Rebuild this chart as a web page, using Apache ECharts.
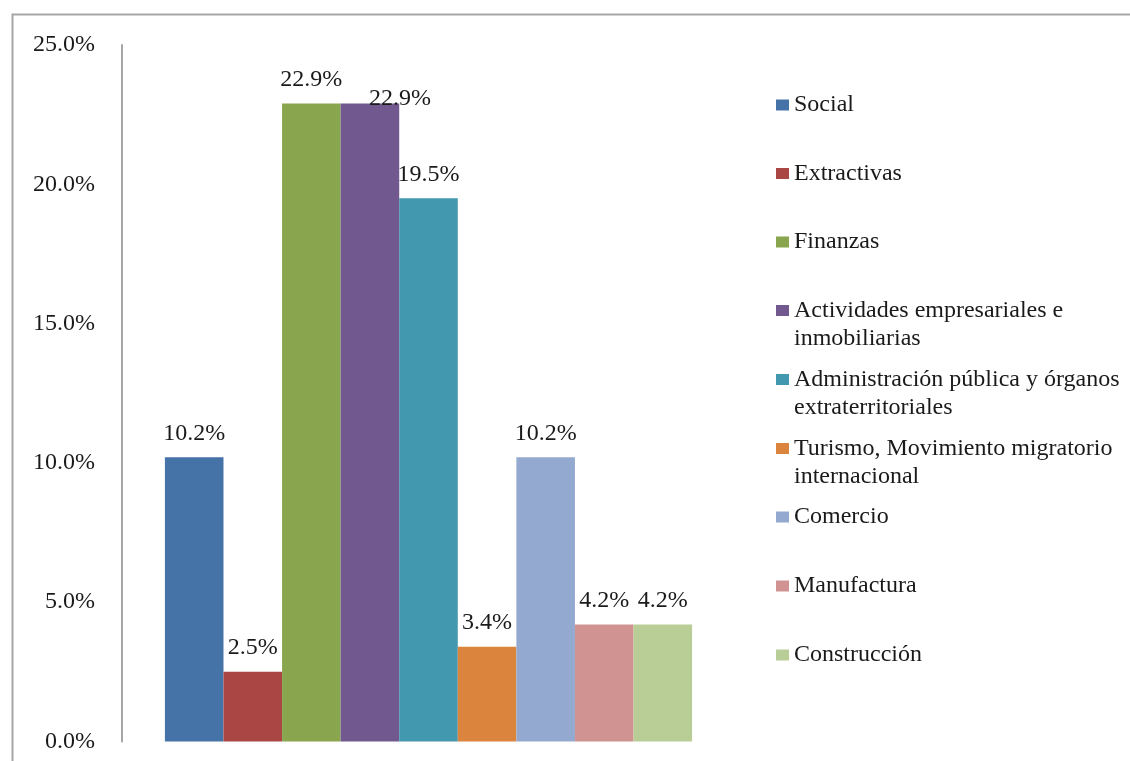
<!DOCTYPE html>
<html>
<head>
<meta charset="utf-8">
<script src="https://cdn.jsdelivr.net/npm/echarts@6/dist/echarts.min.js"></script>
<style>
html,body{margin:0;padding:0;background:#fff;}
#chart{width:1130px;height:761px;}
</style>
</head>
<body>
<div id="chart"></div>
<script>
const seriesNames = [
  'Social',
  'Extractivas',
  'Finanzas',
  'Actividades empresariales e\ninmobiliarias',
  'Administración pública y órganos\nextraterritoriales',
  'Turismo, Movimiento migratorio\ninternacional',
  'Comercio',
  'Manufactura',
  'Construcción'
];
const seriesValues = [10.2, 2.5, 22.9, 22.9, 19.5, 3.4, 10.2, 4.2, 4.2];
const seriesColors = ['#4572A7','#AA4643','#89A54E','#71588F','#4198AF','#DB843D','#93A9CF','#D19392','#B9CD96'];
const categories = [''];
const yTicks = [0, 5, 10, 15, 20, 25];

const FONT = '"Liberation Serif", "Times New Roman", serif';
const FS = 24;
const TXT = '#1a1a1a';

const chart = echarts.init(document.getElementById('chart'), null, {renderer: 'canvas'});

const series = seriesNames.map((name, i) => {
  const s = {
    name: name,
    type: 'bar',
    data: [seriesValues[i]],
    barGap: '0%',
    barCategoryGap: '14%',
    itemStyle: {color: seriesColors[i]},
    label: {
      show: true,
      position: 'top',
      distance: 12,
      fontFamily: FONT,
      fontSize: FS,
      color: TXT,
      formatter: p => p.value.toFixed(1) + '%'
    }
  };
  if (i === 3) s.label.offset = [30, 19];
  return s;
});

const squareIcon = 'path://M0,0h0.01v0.01h-0.01zM0,8h13v11h-13zM0,56h0.01v0.01h-0.01z';

function legendBase(names, top, gap, twoLine) {
  return {
    data: names.map(n => twoLine ? {name: n, icon: squareIcon} : {name: n, icon: 'rect'}),
    orient: 'vertical',
    left: 776,
    top: top,
    itemWidth: 13,
    itemHeight: twoLine ? 56 : 11,
    itemGap: gap,
    padding: 0,
    selectedMode: false,
    textStyle: {fontFamily: FONT, fontSize: FS, color: TXT, lineHeight: 28, padding: [0,0,0,0]},
  };
}

const option = {
  backgroundColor: '#fff',
  animation: false,
  graphic: [{
    type: 'rect',
    shape: {x: 12.5, y: 14.5, width: 1200, height: 900},
    style: {fill: 'none', stroke: '#A6A6A6', lineWidth: 2},
    silent: true
  }],
  legend: [
    legendBase(seriesNames.slice(0,3), 91, 40.5, false),
    legendBase(seriesNames.slice(3,6), 297, 13, true),
    legendBase(seriesNames.slice(6,9), 503, 41, false)
  ],
  grid: {left: 122, right: 1130 - 735, top: 45, bottom: 761 - 741.5, containLabel: false},
  xAxis: {
    type: 'category',
    data: categories,
    axisLine: {show: false},
    axisTick: {show: false},
    axisLabel: {show: false},
    splitLine: {show: false}
  },
  yAxis: {
    type: 'value',
    min: yTicks[0],
    max: yTicks[yTicks.length - 1],
    interval: 5,
    axisLine: {show: true, lineStyle: {color: '#A6A6A6', width: 2}},
    axisTick: {show: false},
    splitLine: {show: false},
    axisLabel: {
      margin: 27,
      fontFamily: FONT,
      fontSize: FS,
      color: TXT,
      formatter: v => v.toFixed(1) + '%'
    }
  },
  series: series
};
chart.setOption(option);
</script>
</body>
</html>
